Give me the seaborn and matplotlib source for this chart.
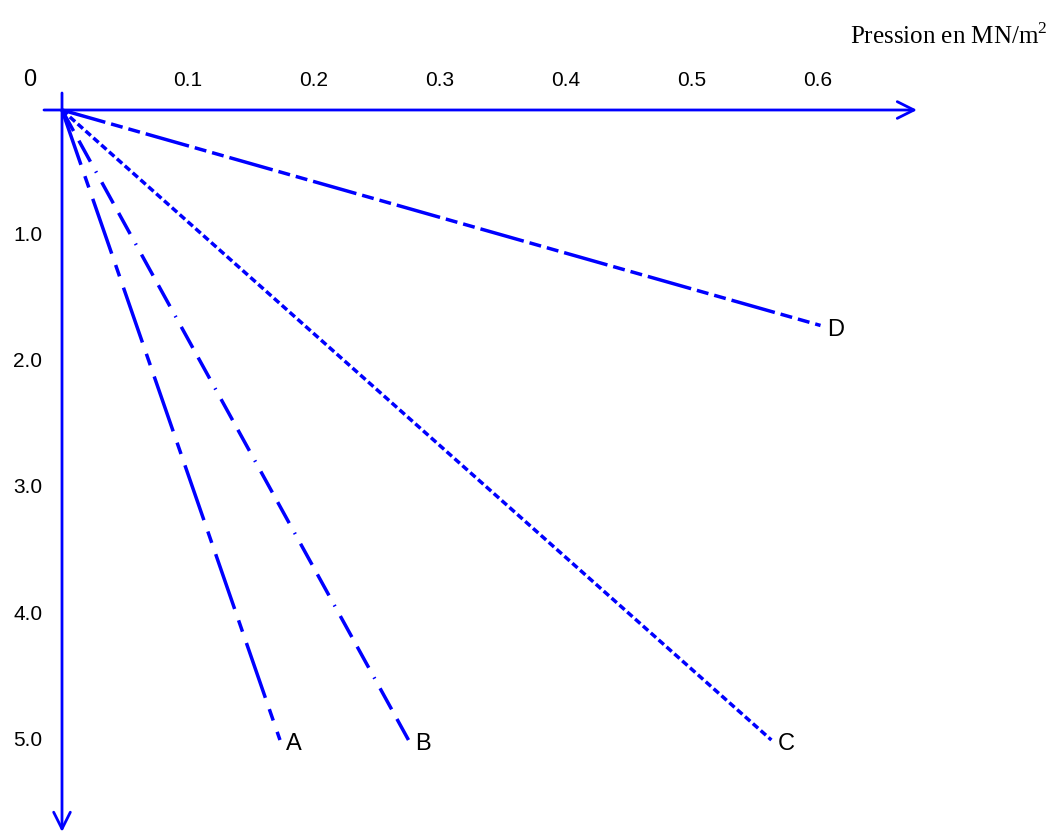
import matplotlib
matplotlib.use("Agg")
import matplotlib.pyplot as plt
import seaborn as sns
import pandas as pd

sns.set_theme(style="white")
plt.rcParams["font.family"] = ["Liberation Sans", "DejaVu Sans"]
plt.rcParams["lines.scale_dashes"] = False
plt.rcParams["mathtext.fontset"] = "custom"
plt.rcParams["mathtext.rm"] = "Liberation Serif"

# Data
names = ["A", "B", "C", "D"]
end_pressure = [0.173, 0.275, 0.563, 0.602]
end_depth = [5.0, 5.0, 5.0, 1.71]
x_ticks = [0.1, 0.2, 0.3, 0.4, 0.5, 0.6]
x_tick_labels = ["0.1", "0.2", "0.3", "0.4", "0.5", "0.6"]
y_ticks = [1.0, 2.0, 3.0, 4.0, 5.0]
y_tick_labels = ["1.0", "2.0", "3.0", "4.0", "5.0"]
x_title = "Pression en MN/m$^{\\mathrm{2}}$"

rows = []
for n, xp, yp in zip(names, end_pressure, end_depth):
    rows.append({"name": n, "p": 0.0, "d": 0.0})
    rows.append({"name": n, "p": xp, "d": yp})
df = pd.DataFrame(rows)

px = 0.72  # points per pixel at 100 dpi
dashes = {
    "A": (0, (58 * px, 12 * px, 12 * px, 12 * px)),
    "B": (0, (24 * px, 11 * px, 24 * px, 11 * px, 1.5 * px, 11 * px)),
    "C": (0, (7 * px, 3.5 * px)),
    "D": (0, (45 * px, 6 * px, 12 * px, 6 * px, 12 * px, 6 * px)),
}

fig = plt.figure(figsize=(10.59, 8.4), dpi=100)
ax = fig.add_axes([0, 0, 1, 1])
ax.set_xlim(-62 / 1260, (1059 - 62) / 1260)
ax.set_ylim((840 - 110) / 126, -110 / 126)
ax.axis("off")

color = "#0000ff"
for n in names:
    sub = df[df["name"] == n]
    sns.lineplot(data=sub, x="p", y="d", ax=ax, color=color, lw=2.5,
                 sort=False, estimator=None)
    ax.lines[-1].set_linestyle(dashes[n])
    ax.lines[-1].set_dash_capstyle("butt")

# axes arrows
ax.annotate("", xy=(0.6786, 0), xytext=(-0.0143, 0),
            arrowprops=dict(arrowstyle="->", color=color, lw=2.0,
                            mutation_scale=30, shrinkA=0, shrinkB=0))
ax.annotate("", xy=(0, 5.73), xytext=(0, -0.135),
            arrowprops=dict(arrowstyle="->", color=color, lw=2.0,
                            mutation_scale=30, shrinkA=0, shrinkB=0))

# tick labels
for xv, lab in zip(x_ticks, x_tick_labels):
    ax.text(xv, -0.238, lab, ha="center", va="center", fontsize=15, color="black")
for yv, lab in zip(y_ticks, y_tick_labels):
    ax.text(-0.0155, yv, lab, ha="right", va="center", fontsize=15, color="black")
ax.text(-0.0254, -0.238, "0", ha="center", va="center", fontsize=17, color="black")

# line labels
for n, xp, yp in zip(names, end_pressure, end_depth):
    ax.text(xp + 0.005, yp + 0.035, n, ha="left", va="center", fontsize=17, color="black")

ax.text((1047 - 62) / 1260, (36 - 110) / 126, x_title, ha="right", va="center",
        fontsize=18, family=["Liberation Serif", "DejaVu Serif"], color="black")

fig.savefig("out.png", dpi=100)
